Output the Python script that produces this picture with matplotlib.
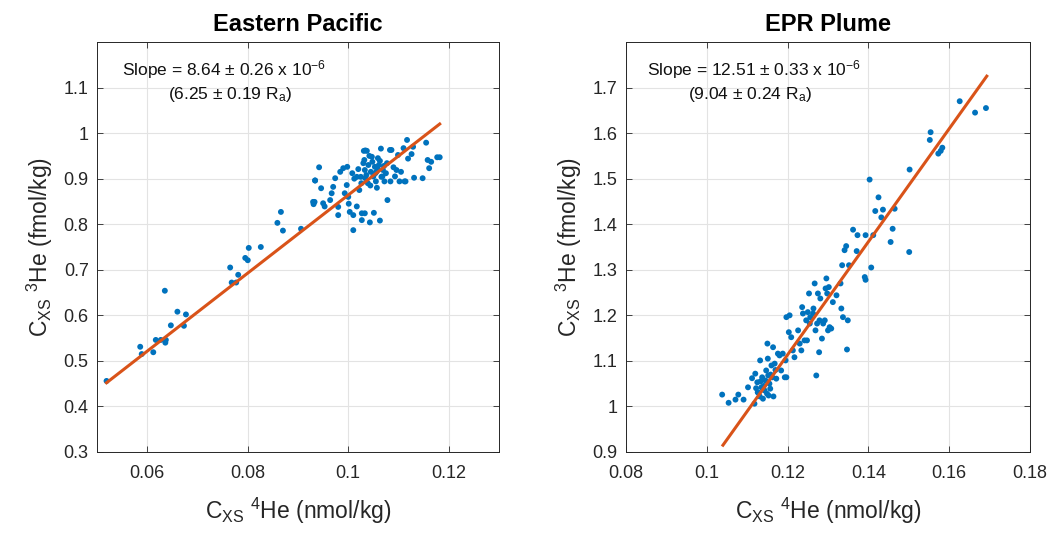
import matplotlib
matplotlib.use("Agg")
import matplotlib.pyplot as plt
import numpy as np

plt.rcParams['font.family'] = ['Liberation Sans', 'DejaVu Sans']
plt.rcParams['mathtext.fontset'] = 'custom'
plt.rcParams['mathtext.rm'] = 'Liberation Sans'
plt.rcParams['mathtext.it'] = 'Liberation Sans'
plt.rcParams['mathtext.default'] = 'regular'

# ---------------- Data: Eastern Pacific ----------------
ep_x = [0.0519, 0.0586, 0.0589, 0.0612, 0.0617, 0.0627, 0.0636, 0.0637, 0.0635, 0.0647,
        0.0660, 0.0673, 0.0677, 0.0765, 0.0768, 0.0777, 0.0781, 0.0795, 0.0800, 0.0802,
        0.0826, 0.0859, 0.0866, 0.0870, 0.0906, 0.0931, 0.0933, 0.0934,
        0.0942, 0.0934, 0.0946, 0.0930, 0.0950, 0.0953, 0.0964, 0.0967, 0.0970, 0.0974,
        0.0980, 0.0980, 0.0984, 0.0990, 0.0998, 0.0993, 0.0997, 0.1000, 0.1001, 0.1003,
        0.1010, 0.1010, 0.1017, 0.1022, 0.1017, 0.1020, 0.1025, 0.1027, 0.1027, 0.1030,
        0.1031, 0.1034, 0.1037, 0.1032, 0.1033, 0.1034, 0.1033, 0.1047, 0.1048, 0.1043,
        0.1051, 0.1053, 0.1054, 0.1055, 0.1057, 0.1058, 0.1065, 0.1063, 0.1063, 0.1066,
        0.1069, 0.1072, 0.1075, 0.1078, 0.1077, 0.1083, 0.1084, 0.1086, 0.1096, 0.1099,
        0.1102, 0.1110, 0.1112, 0.1114, 0.1117, 0.1119, 0.1126, 0.1129, 0.1131, 0.1148,
        0.1155, 0.1158, 0.1161, 0.1165, 0.1177, 0.1182,
        0.1040, 0.1045, 0.1050, 0.1039, 0.1061, 0.1068, 0.1042, 0.1036, 0.1059, 0.1071,
        0.1026, 0.1012, 0.1008, 0.1044, 0.1056, 0.1090, 0.1105, 0.1093]
ep_y = [0.456, 0.531, 0.515, 0.519, 0.546, 0.546, 0.540, 0.546, 0.654, 0.578,
        0.608, 0.577, 0.602, 0.705, 0.672, 0.672, 0.689, 0.726, 0.721, 0.748,
        0.750, 0.803, 0.827, 0.786, 0.790, 0.844, 0.849, 0.896,
        0.925, 0.896, 0.879, 0.849, 0.846, 0.839, 0.853, 0.868, 0.882, 0.901,
        0.838, 0.820, 0.915, 0.923, 0.926, 0.868, 0.886, 0.860, 0.845, 0.827,
        0.820, 0.787, 0.839, 0.875, 0.904, 0.921, 0.904, 0.824, 0.809, 0.934,
        0.961, 0.962, 0.961, 0.941, 0.919, 0.901, 0.824, 0.948, 0.937, 0.804,
        0.825, 0.926, 0.912, 0.894, 0.880, 0.923, 0.966, 0.939, 0.808, 0.904,
        0.919, 0.894, 0.912, 0.853, 0.934, 0.963, 0.894, 0.963, 0.919, 0.952,
        0.894, 0.967, 0.894, 0.894, 0.985, 0.944, 0.954, 0.970, 0.902, 0.901,
        0.979, 0.941, 0.923, 0.937, 0.947, 0.947,
        0.930, 0.915, 0.905, 0.890, 0.930, 0.905, 0.950, 0.908, 0.945, 0.928,
        0.890, 0.900, 0.912, 0.885, 0.915, 0.925, 0.915, 0.905]
ep_fit_x = [0.0519, 0.1182]
ep_fit_y = [0.452, 1.020]

# ---------------- Data: EPR Plume ----------------
epr_x = [0.1038, 0.1054, 0.1071, 0.1078, 0.1091, 0.1102, 0.1112, 0.1118, 0.1120, 0.1125,
         0.1126, 0.1131, 0.1132, 0.1135, 0.1137, 0.1139, 0.1143, 0.1145, 0.1147, 0.1150,
         0.1151, 0.1153, 0.1155, 0.1157, 0.1160, 0.1162, 0.1164, 0.1165, 0.1168, 0.1172,
         0.1176, 0.1180, 0.1184, 0.1188, 0.1193, 0.1197, 0.1195, 0.1197, 0.1205, 0.1203,
         0.1209, 0.1213, 0.1217, 0.1226, 0.1230, 0.1234, 0.1236, 0.1238, 0.1242, 0.1246,
         0.1248, 0.1250, 0.1253, 0.1255, 0.1256, 0.1263, 0.1264, 0.1267, 0.1269, 0.1271,
         0.1273, 0.1275, 0.1278, 0.1279, 0.1281, 0.1285, 0.1288, 0.1292, 0.1294, 0.1296,
         0.1298, 0.1300, 0.1302, 0.1304, 0.1308, 0.1312, 0.1321, 0.1331, 0.1333, 0.1335,
         0.1337, 0.1341, 0.1345, 0.1347, 0.1349, 0.1352, 0.1362, 0.1371, 0.1373, 0.1391,
         0.1393, 0.1393, 0.1403, 0.1407, 0.1412, 0.1417, 0.1425, 0.1432, 0.1436, 0.1455,
         0.1460, 0.1465, 0.1501, 0.1502, 0.1552, 0.1554, 0.1573, 0.1579, 0.1583, 0.1626,
         0.1664, 0.1691,
         0.1128, 0.1141, 0.1149, 0.1158, 0.1133, 0.1170, 0.1122, 0.1152]
epr_y = [1.026, 1.008, 1.015, 1.026, 1.015, 1.042, 1.062, 1.006, 1.072, 1.053,
         1.031, 1.022, 1.101, 1.042, 1.064, 1.017, 1.035, 1.057, 1.079, 1.138,
         1.105, 1.024, 1.050, 1.039, 1.090, 1.064, 1.130, 1.022, 1.094, 1.061,
         1.116, 1.112, 1.079, 1.116, 1.064, 1.064, 1.101, 1.196, 1.200, 1.163,
         1.152, 1.123, 1.108, 1.167, 1.138, 1.123, 1.218, 1.204, 1.145, 1.189,
         1.145, 1.207, 1.248, 1.182, 1.196, 1.204, 1.215, 1.270, 1.167, 1.068,
         1.182, 1.248, 1.119, 1.189, 1.237, 1.149, 1.182, 1.189, 1.259, 1.281,
         1.248, 1.167, 1.262, 1.174, 1.171, 1.229, 1.244, 1.270, 1.215, 1.310,
         1.196, 1.343, 1.352, 1.125, 1.189, 1.310, 1.388, 1.341, 1.376, 1.284,
         1.278, 1.376, 1.498, 1.305, 1.376, 1.429, 1.459, 1.415, 1.432, 1.361,
         1.390, 1.434, 1.339, 1.520, 1.585, 1.602, 1.555, 1.561, 1.568, 1.670,
         1.645, 1.655,
         1.030, 1.045, 1.028, 1.070, 1.055, 1.080, 1.040, 1.068]
epr_fit_x = [0.1040, 0.1693]
epr_fit_y = [0.915, 1.725]

titles = ["Eastern Pacific", "EPR Plume"]
ann1 = [r"Slope = 8.64 ± 0.26 x 10$^{-6}$", r"Slope = 12.51 ± 0.33 x 10$^{-6}$"]
ann2 = [r"(6.25 ± 0.19 R$_{a}$)", r"(9.04 ± 0.24 R$_{a}$)"]
xticks_l = [0.06, 0.08, 0.10, 0.12]
xticklabels_l = ["0.06", "0.08", "0.1", "0.12"]
yticks_l = [0.3, 0.4, 0.5, 0.6, 0.7, 0.8, 0.9, 1.0, 1.1]
yticklabels_l = ["0.3", "0.4", "0.5", "0.6", "0.7", "0.8", "0.9", "1", "1.1"]
xticks_r = [0.08, 0.10, 0.12, 0.14, 0.16, 0.18]
xticklabels_r = ["0.08", "0.1", "0.12", "0.14", "0.16", "0.18"]
yticks_r = [0.9, 1.0, 1.1, 1.2, 1.3, 1.4, 1.5, 1.6, 1.7]
yticklabels_r = ["0.9", "1", "1.1", "1.2", "1.3", "1.4", "1.5", "1.6", "1.7"]

blue = "#0072BD"
orange = "#D95319"
axcol = "#262626"

fig = plt.figure(figsize=(10.53, 5.35), dpi=100)
ax1 = fig.add_axes([97/1053, 83/535, 402/1053, 410/535])
ax2 = fig.add_axes([626/1053, 83/535, 404/1053, 410/535])

panels = [
    (ax1, ep_x, ep_y, ep_fit_x, ep_fit_y, (0.05, 0.13), (0.3, 1.2),
     xticks_l, xticklabels_l, yticks_l, yticklabels_l, (0.062, 0.177)),
    (ax2, epr_x, epr_y, epr_fit_x, epr_fit_y, (0.08, 0.18), (0.9, 1.8),
     xticks_r, xticklabels_r, yticks_r, yticklabels_r, (0.052, 0.153)),
]

for i, (ax, x, y, fx, fy, xl, yl, xt, xtl, yt, ytl, annx) in enumerate(panels):
    ax.scatter(x, y, s=18, color=blue, edgecolors='none', zorder=3)
    ax.plot(fx, fy, color=orange, lw=2.2, zorder=4)
    ax.set_xlim(*xl)
    ax.set_ylim(*yl)
    ax.set_xticks(xt)
    ax.set_xticklabels(xtl)
    ax.set_yticks(yt)
    ax.set_yticklabels(ytl)
    ax.grid(True, color="#e3e3e3", lw=0.8, zorder=0)
    ax.set_axisbelow(True)
    ax.tick_params(direction='in', length=4, width=0.6, colors=axcol,
                   labelsize=13, top=True, right=True)
    ax.tick_params(axis='x', pad=9)
    ax.tick_params(axis='y', pad=6)
    for sp in ax.spines.values():
        sp.set_color(axcol)
        sp.set_linewidth(0.7)
    ax.set_title(titles[i], fontsize=17, fontweight='bold', pad=8)
    ax.set_xlabel(r"C$_{XS}$ $^{4}$He (nmol/kg)", fontsize=16.5, color=axcol, labelpad=10)
    ax.set_ylabel(r"C$_{XS}$ $^{3}$He (fmol/kg)", fontsize=16.5, color=axcol, labelpad=6)
    ax.text(annx[0], 0.932, ann1[i], transform=ax.transAxes, fontsize=12.5,
            va='center', ha='left', color='#111111')
    ax.text(annx[1], 0.872, ann2[i], transform=ax.transAxes, fontsize=12.5,
            va='center', ha='left', color='#111111')

fig.savefig("out.png", dpi=100)
